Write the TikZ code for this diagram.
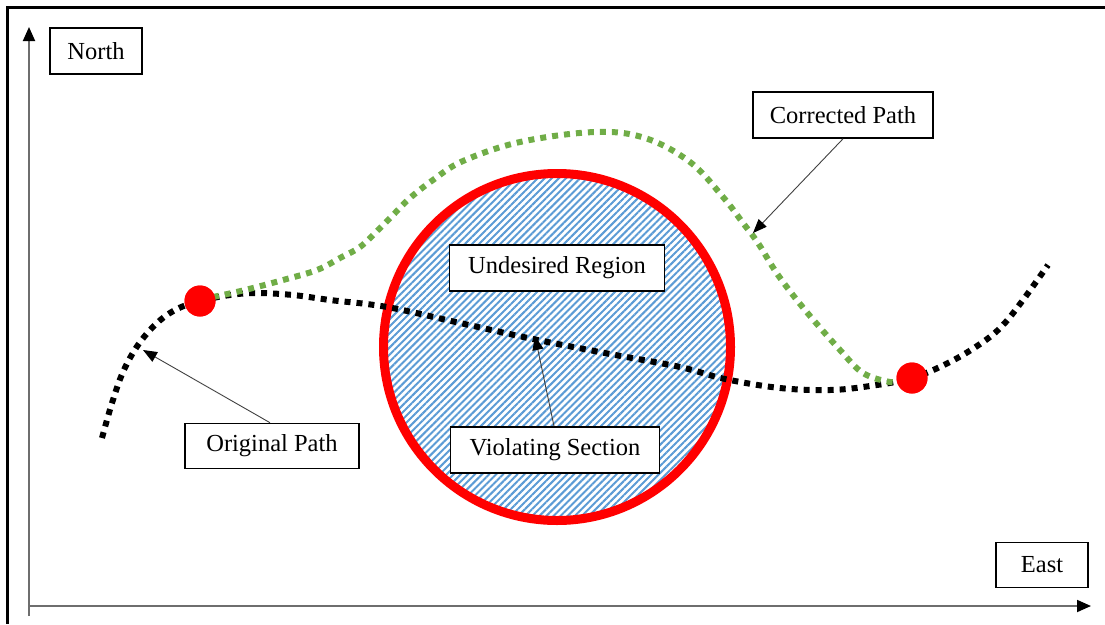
\documentclass[tikz,border=0pt]{standalone}
\usepackage{fontspec}
\setmainfont{Liberation Serif}
\usetikzlibrary{arrows.meta,patterns.meta}

\definecolor{hatchblue}{HTML}{5B9BD5}
\definecolor{pathgreen}{HTML}{70AD47}
\definecolor{axisgray}{HTML}{6E6E6E}

\begin{document}
\begin{tikzpicture}[x=1pt,y=-1pt,
  labelbox/.style={draw=black, line width=1.6pt, fill=white, minimum height=46pt,
    inner sep=0pt, font=\fontsize{24.5}{28}\selectfont},
  axisline/.style={draw=axisgray, line width=1.8pt,
    -{Triangle[length=14pt,width=12pt,color=black]}},
  callout/.style={draw=black!75, line width=0.9pt,
    -{Triangle[length=14pt,width=11pt,color=black]}},
  dotline/.style={line width=6pt, line cap=butt, dash pattern=on 6pt off 6pt},
  waypoint/.style={circle, fill=red, minimum size=31pt, inner sep=0pt}
]
\useasboundingbox (0,0) rectangle (1105,624);

% outer frame (top and left edges)
\draw[line width=3pt] (1105,7) -- (7,7) -- (7,624);

% axes
\coordinate (origin) at (29,606);
\coordinate (ytip) at (29,27);
\coordinate (xtip) at (1091,606);
\draw[axisline] (29,616) -- (ytip);
\draw[axisline] (origin) -- (xtip);

% undesired region
\draw[red, line width=9pt,
  pattern={Lines[angle=45,distance=5pt,line width=2pt]}, pattern color=hatchblue]
  (557,347) circle[radius=173.5];

% waypoints
\node[waypoint] (wpA) at (200,301) {};
\node[waypoint] (wpB) at (912,378) {};

% original path
\draw[dotline, black] plot[smooth, tension=0.6] coordinates {
  (102,438) (112,403) (123,372) (138,345) (157,323) (177,309) (200,301)
  (230,295) (257,293) (293,295) (330,300) (387,307) (460,323) (533,339)
  (610,354) (680,367) (725,379) (780,388) (830,390) (870,386) (912,378)
  (950,362) (983,342) (1003,325) (1023,300) (1048,265)};

% corrected path
\draw[dotline, pathgreen] plot[smooth, tension=0.6] coordinates {
  (213,297) (245,290) (283,280) (317,270) (340,258) (360,247) (378,230)
  (395,213) (410,198) (433,180) (463,161) (520,142) (595,132) (645,138)
  (690,162) (723,197) (743,223) (758,243) (778,275) (805,310) (840,350)
  (863,373) (890,382) (902,381)};

\node[waypoint] at (wpA) {};
\node[waypoint] at (wpB) {};

% labels
\node[labelbox, minimum width=92pt] (north) at (96,51) {North};
\node[labelbox, minimum width=92pt, minimum height=45pt] (east) at (1042,565) {East};
\node[labelbox, minimum width=180pt] (corr) at (843,115) {Corrected Path};
\node[labelbox, minimum width=215pt] (undes) at (557,268) {Undesired Region};
\node[labelbox, minimum width=209pt] (viol) at (555,450) {Violating Section};
\node[labelbox, minimum width=174pt, minimum height=45pt] (orig) at (272,446) {Original Path};

% callouts
\coordinate (origtip) at (143,350);
\coordinate (violtip) at (535,336);
\coordinate (corrtip) at (753,233);
\draw[callout] (orig.north -| 270,0) -- (origtip);
\draw[callout] (viol.north -| 554,0) -- (violtip);
\draw[callout] (corr.south) -- (corrtip);
\end{tikzpicture}
\end{document}
